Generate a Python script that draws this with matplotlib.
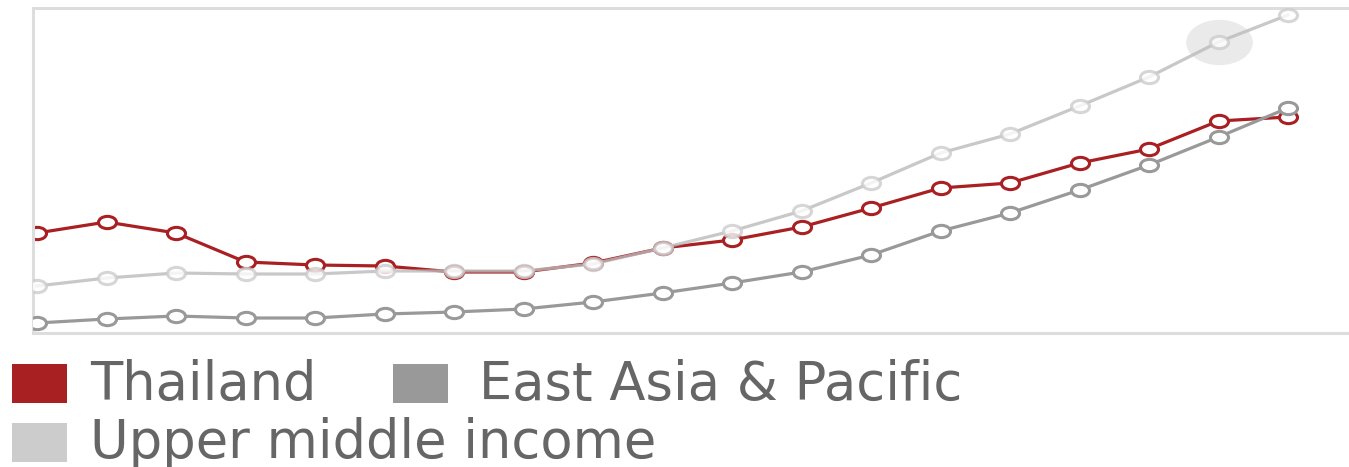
"""Three-series line chart with hollow markers and a flow legend below."""

import matplotlib
matplotlib.use("Agg")
import matplotlib.pyplot as plt
import numpy as np
from matplotlib.markers import MarkerStyle
from matplotlib.patches import Rectangle
from matplotlib.path import Path

W, H = 1349, 467

# data (y axis has no labels so units are arbitrary)
years = list(range(1997, 2016))
thailand = [100, 111, 100, 71, 68, 67, 61, 61, 70, 85, 93, 106, 125, 145, 150, 170, 184, 212, 216]
east_asia = [10, 14, 17, 15, 15, 19, 21, 24, 31, 40, 50, 61, 78, 102, 120, 143, 168, 196, 225]
upper_mid = [47, 55, 60, 59, 59, 62, 62, 62, 69, 85, 102, 122, 150, 180, 199, 227, 256, 291, 318]
hover_idx = 17  # highlighted point on the upper-middle-income series

labels = ["Thailand", "East Asia & Pacific", "Upper middle income"]
colors = ["#a92023", "#999999", "#cccccc"]

RED, GREY, LIGHT = colors
SPINE = "#dddddd"
TEXT = "#666666"

# squashed circle, the source image is stretched sideways
circ = Path.unit_circle()
ell = Path(circ.vertices * np.array([1.0, 0.68]), circ.codes)
ell_marker = MarkerStyle(ell)

fig = plt.figure(figsize=(W / 100, H / 100), dpi=100)
ax = fig.add_axes([33 / W, (H - 333) / H, (W - 33) / W, 325 / H])

step = 69.5  # px per year
ax.set_xlim(years[0] - 4 / step, years[-1] + (W - 1288) / step)
ax.set_ylim(0, 325)

# hover halo
ax.plot(years[hover_idx], upper_mid[hover_idx], marker=ell_marker, ms=48,
        color=LIGHT, alpha=0.4, mec="none", zorder=1)

style = dict(marker=ell_marker, ms=13, mew=2.2, mfc="white", lw=2.3)
ax.plot(years, thailand, color=RED, mec=RED, zorder=2, **style)
ax.plot(years, east_asia, color=GREY, mec=GREY, zorder=3, **style)
ax.plot(years, upper_mid, color="#bbbbbb", mec=LIGHT, alpha=0.8, zorder=4, **style)

for side in ("left", "top", "bottom"):
    ax.spines[side].set_color(SPINE)
    ax.spines[side].set_linewidth(2.2)
ax.spines["right"].set_visible(False)
ax.set_xticks([])
ax.set_yticks([])

# legend, laid out by hand in pixel positions
legend_items = [
    (labels[0], colors[0], 12, 364, 90, 400),
    (labels[1], colors[1], 393, 364, 479, 400),
    (labels[2], colors[2], 12, 423, 90, 458),
]
for text, col, sx, sy, tx, ty in legend_items:
    fig.add_artist(Rectangle((sx / W, 1 - (sy + 39) / H), 55 / W, 39 / H,
                             transform=fig.transFigure, color=col, lw=0))
    fig.text(tx / W, 1 - ty / H, text, color=TEXT, fontsize=38,
             family="DejaVu Sans", va="baseline", ha="left")

fig.savefig("out.png", dpi=100)
